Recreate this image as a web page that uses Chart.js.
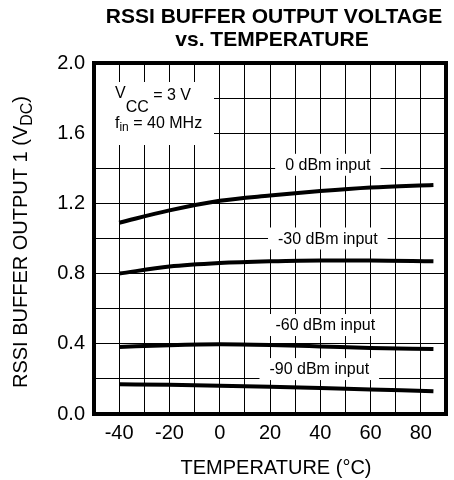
<!DOCTYPE html>
<html>
<head>
<meta charset="utf-8">
<title>RSSI Buffer Output Voltage vs. Temperature</title>
<script src="https://cdn.jsdelivr.net/npm/chart.js@4.4.1/dist/chart.umd.min.js"></script>
<style>
  html, body { margin: 0; padding: 0; background: #fff; }
  canvas { display: block; }
</style>
</head>
<body>
<canvas id="rssiChart" width="454" height="480"></canvas>
<script>
/* ===============================
   DATA
================================ */
const temps = [-40, -20, 0, 20, 40, 60, 85];
const input0dBm = [1.09, 1.16, 1.215, 1.245, 1.27, 1.29, 1.305];
const input30dBm = [0.80, 0.84, 0.86, 0.87, 0.875, 0.875, 0.87];
const input60dBm = [0.382, 0.392, 0.397, 0.393, 0.385, 0.376, 0.37];
const input90dBm = [0.17, 0.166, 0.161, 0.155, 0.148, 0.14, 0.13];

const xTickLabels = [-40, -20, 0, 20, 40, 60, 80];
const yTickLabels = ["0.0", "0.4", "0.8", "1.2", "1.6", "2.0"];

// curve labels, anchored in data units (temperature, volts)
const curveLabels = [
  { text: "0 dBm input", x: 43, y: 1.42 },
  { text: "-30 dBm input", x: 43, y: 1.0 },
  { text: "-60 dBm input", x: 42, y: 0.507 },
  { text: "-90 dBm input", x: 39.6, y: 0.256 }
];

const FONT = '"Liberation Sans", Arial, Helvetica, sans-serif';

const toPoints = vals => temps.map((t, i) => ({ x: t, y: vals[i] }));

const lineSet = vals => ({
  data: toPoints(vals),
  borderColor: "#000",
  borderWidth: 4,
  pointRadius: 0,
  fill: false,
  cubicInterpolationMode: "monotone"
});

/* ===============================
   TEXT HELPERS
================================ */
// parts: [text, fontSize, baselineShift]
function drawParts(ctx, parts, x, y, align) {
  let total = 0;
  parts.forEach(p => {
    ctx.font = p[1] + "px " + FONT;
    total += ctx.measureText(p[0]).width;
  });
  let cx = align === "center" ? x - total / 2 : x;
  ctx.textAlign = "left";
  ctx.textBaseline = "alphabetic";
  parts.forEach(p => {
    ctx.font = p[1] + "px " + FONT;
    ctx.fillText(p[0], cx, y + (p[2] || 0));
    cx += ctx.measureText(p[0]).width;
  });
}

/* ===============================
   PLUGINS
================================ */
const annotations = {
  id: "annotations",
  beforeDatasetsDraw(chart) {
    const { ctx, chartArea: a, scales: { x, y } } = chart;
    ctx.save();
    ctx.fillStyle = "#fff";

    // condition box
    ctx.fillRect(a.left, a.top + 19, 120, 63);
    ctx.fillStyle = "#000";
    drawParts(ctx, [["V", 16, 0], ["CC", 16, 14], [" = 3 V", 16, 2]], a.left + 21, a.top + 35);
    drawParts(ctx, [["f", 16, 0], ["in", 12, 3], [" = 40 MHz", 16, 0]], a.left + 21, a.top + 65);

    // curve labels with white backing
    ctx.font = "16px " + FONT;
    curveLabels.forEach(l => {
      const px = x.getPixelForValue(l.x);
      const py = y.getPixelForValue(l.y);
      const w = ctx.measureText(l.text).width + 20;
      ctx.fillStyle = "#fff";
      ctx.fillRect(px - w / 2, py - 11, w, 22);
      ctx.fillStyle = "#000";
      ctx.textAlign = "center";
      ctx.textBaseline = "middle";
      ctx.fillText(l.text, px, py + 1);
    });
    ctx.restore();
  },
  afterDraw(chart) {
    const { ctx, chartArea: a } = chart;
    ctx.save();

    // frame
    ctx.strokeStyle = "#000";
    ctx.lineWidth = 4;
    ctx.strokeRect(a.left, a.top, a.right - a.left, a.bottom - a.top);

    // main title
    ctx.fillStyle = "#000";
    ctx.font = "bold 21px " + FONT;
    ctx.textAlign = "center";
    ctx.textBaseline = "middle";
    ctx.fillText("RSSI BUFFER OUTPUT VOLTAGE", 274, 17);
    ctx.fillText("vs. TEMPERATURE", 272, 40);

    // x axis title
    ctx.font = "20px " + FONT;
    ctx.fillText("TEMPERATURE (\u00B0C)", 276, 468);

    // y axis title, rotated, with subscript
    ctx.translate(27, 242);
    ctx.rotate(-Math.PI / 2);
    drawParts(ctx, [["RSSI BUFFER OUTPUT 1 (V", 20, 0], ["DC", 16, 5], [")", 20, 0]], 0, 0, "center");
    ctx.restore();
  }
};

/* ===============================
   CHART
================================ */
new Chart(document.getElementById("rssiChart"), {
  type: "line",
  data: {
    datasets: [
      lineSet(input0dBm),
      lineSet(input30dBm),
      lineSet(input60dBm),
      lineSet(input90dBm)
    ]
  },
  options: {
    responsive: false,
    animation: false,
    layout: { padding: { left: 0, right: 8, top: 63, bottom: 0 } },
    plugins: {
      legend: { display: false },
      title: { display: false },
      tooltip: { enabled: false }
    },
    scales: {
      x: {
        type: "linear",
        min: -50,
        max: 90,
        afterFit: s => { s.height = 66; },
        border: { display: false },
        grid: { color: "#000", lineWidth: 1, drawTicks: false },
        ticks: {
          stepSize: 10,
          padding: 7,
          color: "#000",
          font: { family: FONT, size: 20 },
          maxRotation: 0,
          autoSkip: false,
          callback: v => xTickLabels.includes(v) ? String(v) : ""
        }
      },
      y: {
        min: 0,
        max: 2,
        afterFit: s => { s.width = 94; },
        border: { display: false },
        grid: { color: "#000", lineWidth: 1, drawTicks: false },
        ticks: {
          stepSize: 0.2,
          padding: 9,
          color: "#000",
          font: { family: FONT, size: 20 },
          autoSkip: false,
          callback: v => {
            const s = (+v).toFixed(1);
            return yTickLabels.includes(s) ? s : "";
          }
        }
      }
    }
  },
  plugins: [annotations]
});
</script>
</body>
</html>
